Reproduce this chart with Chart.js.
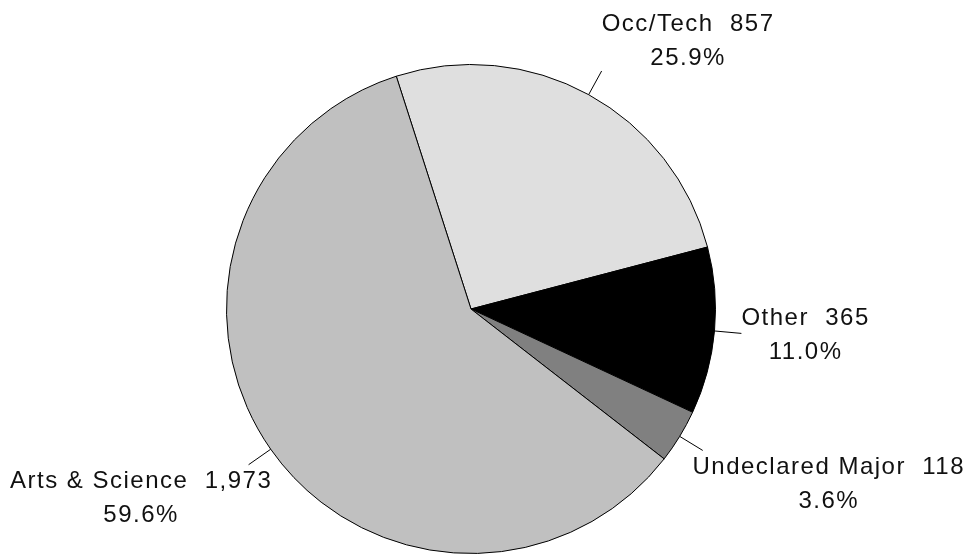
<!DOCTYPE html>
<html>
<head>
<meta charset="utf-8">
<script src="https://cdn.jsdelivr.net/npm/chart.js@4"></script>
<style>
  html, body { margin: 0; padding: 0; background: #fff; }
  #wrap { width: 972px; height: 555px; }
</style>
</head>
<body>
<div id="wrap"><canvas id="pie" width="972" height="555"></canvas></div>
<script>
const labels = ['Occ/Tech', 'Other', 'Undeclared Major', 'Arts & Science'];
const counts = [857, 365, 118, 1973];
const colors = ['#dfdfdf', '#000000', '#808080', '#c0c0c0'];

const total = counts.reduce((a, b) => a + b, 0);

// outside labels with short leader lines, drawn after the arcs
const outsideLabels = {
  id: 'outsideLabels',
  afterDatasetsDraw(chart) {
    const ctx = chart.ctx;
    const meta = chart.getDatasetMeta(0);
    const lineH = 34;
    const minX = 10, maxX = chart.width - 7; // keep labels inside the canvas
    ctx.save();
    ctx.font = '24px "Liberation Sans", Arial, sans-serif';
    ctx.letterSpacing = '1.5px';
    ctx.fillStyle = '#111';
    ctx.textBaseline = 'middle';
    meta.data.forEach((arc, i) => {
      const mid = (arc.startAngle + arc.endAngle) / 2;
      const cx = arc.x, cy = arc.y, r = arc.outerRadius;
      const x0 = cx + Math.cos(mid) * r, y0 = cy + Math.sin(mid) * r;
      const x1 = cx + Math.cos(mid) * (r + 27), y1 = cy + Math.sin(mid) * (r + 27);

      ctx.beginPath();
      ctx.strokeStyle = '#000';
      ctx.lineWidth = 1;
      ctx.moveTo(x0, y0);
      ctx.lineTo(x1, y1);
      ctx.stroke();

      const line1 = labels[i] + '  ' + counts[i].toLocaleString('en-US');
      const line2 = (counts[i] / total * 100).toFixed(1) + '%';
      const w = ctx.measureText(line1).width;

      const c = Math.cos(mid), s = Math.sin(mid);
      let bx;
      if (c > 0.3) bx = x1 + w / 2;
      else if (c < -0.3) bx = x1 - w / 2;
      else bx = x1;
      bx = Math.max(minX + w / 2, Math.min(maxX - w / 2, bx));

      let yA, yB;
      if (s < -0.3) { yB = y1 - 13; yA = yB - lineH; }
      else if (s > 0.3) { yA = y1 + 17; yB = yA + lineH; }
      else { yA = y1 - 15; yB = yA + lineH; }

      ctx.textAlign = 'center';
      ctx.fillText(line1, bx, yA);
      ctx.fillText(line2, bx, yB);
    });
    ctx.restore();
  }
};

new Chart(document.getElementById('pie'), {
  type: 'pie',
  data: {
    labels: labels,
    datasets: [{
      data: counts,
      backgroundColor: colors,
      borderColor: '#000',
      borderWidth: 1
    }]
  },
  options: {
    responsive: false,
    animation: false,
    rotation: -17.8,
    layout: { padding: { top: 64, bottom: 1, left: 226, right: 256 } },
    plugins: {
      legend: { display: false },
      tooltip: { enabled: false }
    }
  },
  plugins: [outsideLabels]
});
</script>
</body>
</html>
